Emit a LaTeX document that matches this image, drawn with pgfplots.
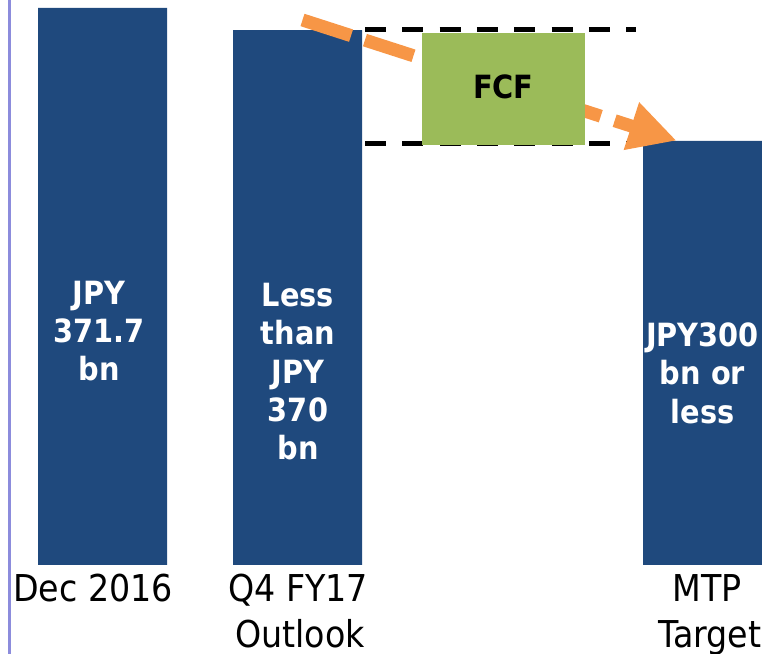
\documentclass[border=0pt]{standalone}
\usepackage{pgfplots}
\pgfplotsset{compat=1.18}
\usepackage{fontspec}
\setmainfont{DejaVu Sans Condensed}
\usetikzlibrary{arrows.meta}
\definecolor{barblue}{HTML}{1F497D}
\definecolor{fcfgreen}{HTML}{9BBB59}
\definecolor{fcforange}{HTML}{F79646}
\definecolor{lav}{RGB}{140,140,220}
\newcommand{\py}[1]{{(565-#1)/1.4985}}
\tikzset{
  bl/.style={font=\bfseries\fontsize{16pt}{19pt}\selectfont, text=white, anchor=base, inner sep=0pt},
  cl/.style={font=\fontsize{18.5pt}{22pt}\selectfont, text=black, anchor=base, inner sep=0pt},
}
\begin{document}
\begin{tikzpicture}
\begin{axis}[
  scale only axis, width=381pt, height=327pt,
  xmin=0, xmax=762, ymin=-59.39, ymax=377.04,
  hide axis, clip=true,
]
\coordinate (BL) at (rel axis cs:0,0);
\coordinate (TR) at (rel axis cs:1,1);
% left rule
\addplot[lav, line width=1.5pt] coordinates {(9.5,-60) (9.5,378)};
% bars (JPY bn)
\addplot[ybar, bar width=129, fill=barblue, draw=none] coordinates {(102.5,371.7) (297.5,357.0) (707.5,283.0)};
% dashed guide lines
\addplot[black, line width=2.5pt, dash pattern=on 10.5pt off 8.15pt] coordinates {(365,357.2) (635.7,357.2)};
\addplot[black, line width=2.5pt, dash pattern=on 10.5pt off 8.15pt] coordinates {(365,281.3) (640,281.3)};
% orange arrow
\addplot[fcforange, line width=6.5pt, dash pattern=on 25.5pt off 7.3pt, -{Triangle[length=23.8pt,width=23.3pt]}] coordinates {(302.5,363.7) (676.7,283.15)};
% FCF box
\addplot[fill=fcfgreen, draw=none] coordinates {(422.3,280.3) (585,280.3) (585,355.0) (422.3,355.0)} -- cycle;
\node[font=\bfseries\fontsize{16pt}{19pt}\selectfont, anchor=base, inner sep=0pt] at (axis cs:503.3,\py{98.3}) {FCF};
% bar labels
\node[bl] at (axis cs:99,\py{305}) {JPY};
\node[bl] at (axis cs:99,\py{342.7}) {371.7};
\node[bl] at (axis cs:99,\py{380.7}) {bn};
\node[bl] at (axis cs:298,\py{306.7}) {Less};
\node[bl] at (axis cs:298,\py{345}) {than};
\node[bl] at (axis cs:298,\py{383.3}) {JPY};
\node[bl] at (axis cs:298,\py{421.7}) {370};
\node[bl] at (axis cs:298,\py{460}) {bn};
\node[bl] at (axis cs:702.5,\py{346.7}) {JPY300};
\node[bl] at (axis cs:702.5,\py{385}) {bn or};
\node[bl] at (axis cs:702.5,\py{423.3}) {less};
% category labels
\node[cl] at (axis cs:93,\py{602}) {Dec 2016};
\node[cl] at (axis cs:298,\py{602}) {Q4 FY17};
\node[cl] at (axis cs:300,\py{647}) {Outlook};
\node[cl] at (axis cs:707,\py{602}) {MTP};
\node[cl] at (axis cs:710,\py{647}) {Target};
\end{axis}
\pgfresetboundingbox
\useasboundingbox (BL) rectangle (TR);
\end{tikzpicture}
\end{document}
